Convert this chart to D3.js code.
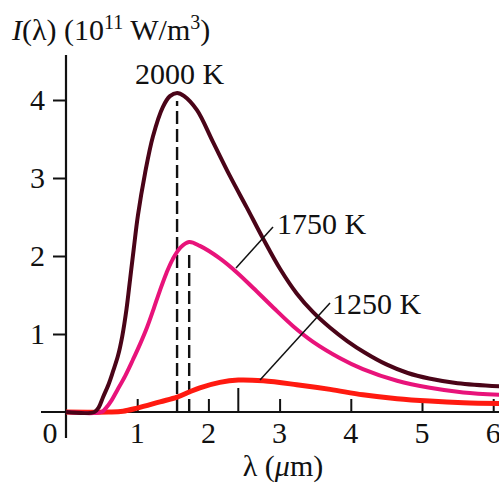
<!DOCTYPE html>
<html><head><meta charset="utf-8">
<script src="https://cdn.jsdelivr.net/npm/d3@7"></script>
<style>
html,body{margin:0;padding:0;background:#fff;}
svg{display:block;font-family:"Liberation Serif","DejaVu Serif",serif;}
</style></head>
<body>
<svg id="c" width="499" height="486"></svg>
<script>
// Data
const xTicks = [1, 2, 3, 4, 5, 6];
const yTicks = [1, 2, 3, 4];
const series2000 = [[0,0],[0.40,0],[0.46,0.06],[0.52,0.19],[0.60,0.36],[0.66,0.52],[0.73,0.72],[0.79,0.97],[0.85,1.32],[0.90,1.70],[0.95,2.08],[1.01,2.52],[1.11,3.06],[1.22,3.53],[1.36,3.91],[1.46,4.05],[1.56,4.09],[1.66,4.05],[1.84,3.87],[2.06,3.47],[2.30,3.03],[2.54,2.62],[2.77,2.22],[3.01,1.83],[3.24,1.52],[3.47,1.28],[3.71,1.08],[3.95,0.91],[4.20,0.76],[4.50,0.61],[4.80,0.50],[5.10,0.43],[5.50,0.37],[6.10,0.33]];
const series1750 = [[0,0],[0.50,0],[0.56,0.05],[0.64,0.15],[0.72,0.28],[0.83,0.46],[0.94,0.67],[1.04,0.87],[1.14,1.09],[1.23,1.32],[1.32,1.56],[1.41,1.78],[1.50,1.96],[1.61,2.11],[1.73,2.18],[1.88,2.13],[2.16,1.97],[2.40,1.79],[2.63,1.59],[2.91,1.34],[3.19,1.10],[3.47,0.90],[3.85,0.69],[4.17,0.55],[4.65,0.40],[5.11,0.31],[5.58,0.25],[6.10,0.22]];
const series1250 = [[0,0],[0.60,0],[0.80,0.01],[1.00,0.05],[1.32,0.13],[1.56,0.19],[1.74,0.26],[1.88,0.31],[2.16,0.38],[2.42,0.41],[2.77,0.40],[3.24,0.35],[3.71,0.29],[4.17,0.22],[4.65,0.17],[5.11,0.14],[5.58,0.12],[6.10,0.11]];
const peaks = [{lam:1.56, v:4.09}, {lam:1.73, v:2.18}];
const peak1250 = {lam:2.42, v:0.41};
const labels = [{t:"2000 K"}, {t:"1750 K"}, {t:"1250 K"}];

const svg = d3.select("#c");
const x = d3.scaleLinear().domain([0, 6]).range([66, 493.2]);
const y = d3.scaleLinear().domain([0, 4]).range([412, 100]);
const FS = 30;

// axes lines
svg.append("line").attr("x1", 41).attr("x2", 499).attr("y1", y(0)).attr("y2", y(0)).attr("stroke", "#111").attr("stroke-width", 2.2);
svg.append("line").attr("x1", x(0)).attr("x2", x(0)).attr("y1", 55).attr("y2", 438).attr("stroke", "#111").attr("stroke-width", 2.2);

// y axis via d3
const ya = svg.append("g").attr("transform", `translate(${x(0)},0)`)
  .call(d3.axisLeft(y).tickValues(yTicks).tickSize(13).tickPadding(8).tickFormat(d3.format("d")));
ya.select(".domain").remove();
ya.selectAll("line").attr("stroke", "#111").attr("stroke-width", 2);
ya.selectAll("text").attr("font-size", FS).attr("fill", "#111").attr("font-family", "Liberation Serif");

// x axis ticks upward
const xa = svg.append("g").attr("transform", `translate(0,${y(0)})`)
  .call(d3.axisTop(x).tickValues(xTicks).tickSize(13).tickFormat(""));
xa.select(".domain").remove();
xa.selectAll("line").attr("stroke", "#111").attr("stroke-width", 2);
// x tick labels below
svg.append("g").selectAll("text").data(xTicks).join("text")
  .attr("x", d => x(d)).attr("y", 443).attr("text-anchor", "middle")
  .attr("font-size", FS).attr("fill", "#111").text(d => d);
svg.append("text").attr("x", 50).attr("y", 443).attr("text-anchor", "middle")
  .attr("font-size", FS).attr("fill", "#111").text("0");

// dashed peak lines
svg.append("g").selectAll("line").data(peaks).join("line")
  .attr("x1", d => x(d.lam)).attr("x2", d => x(d.lam))
  .attr("y1", y(0)).attr("y2", d => y(d.v) + 8)
  .attr("stroke", "#111").attr("stroke-width", 2.4).attr("stroke-dasharray", "13,5");
// 1250 K peak tick
svg.append("line").attr("x1", x(peak1250.lam)).attr("x2", x(peak1250.lam))
  .attr("y1", y(0)).attr("y2", y(peak1250.v) + 8).attr("stroke", "#111").attr("stroke-width", 2);

const line = d3.line().x(d => x(d[0])).y(d => y(d[1])).curve(d3.curveCatmullRom.alpha(0.5));
svg.append("path").datum(series1250).attr("d", line).attr("fill", "none").attr("stroke", "#ff1a10").attr("stroke-width", 5);
svg.append("path").datum(series1750).attr("d", line).attr("fill", "none").attr("stroke", "#e8137a").attr("stroke-width", 4);
svg.append("path").datum(series2000).attr("d", line).attr("fill", "none").attr("stroke", "#4a0418").attr("stroke-width", 4);

// leader lines
svg.append("line").attr("x1", 273).attr("y1", 227).attr("x2", 236).attr("y2", 268).attr("stroke", "#111").attr("stroke-width", 1.5);
svg.append("line").attr("x1", 330).attr("y1", 303).attr("x2", 260).attr("y2", 380).attr("stroke", "#111").attr("stroke-width", 1.5);

// curve labels
svg.append("text").attr("x", 135).attr("y", 84).attr("font-size", FS).attr("fill", "#111").text(labels[0].t);
svg.append("text").attr("x", 277).attr("y", 234).attr("font-size", FS).attr("fill", "#111").text(labels[1].t);
svg.append("text").attr("x", 332).attr("y", 314).attr("font-size", FS).attr("fill", "#111").text(labels[2].t);

// y title
const tt = svg.append("text").attr("x", 12).attr("y", 40).attr("font-size", FS).attr("fill", "#111");
tt.append("tspan").attr("font-style", "italic").text("I");
tt.append("tspan").text("(λ) (10");
tt.append("tspan").attr("font-size", 20).attr("dy", -11).text("11");
tt.append("tspan").attr("dy", 11).text(" W/m");
tt.append("tspan").attr("font-size", 20).attr("dy", -11).text("3");
tt.append("tspan").attr("dy", 11).text(")");

// x title
const xt = svg.append("text").attr("x", 283).attr("y", 476).attr("text-anchor", "middle").attr("font-size", FS).attr("fill", "#111");
xt.append("tspan").text("λ (");
xt.append("tspan").attr("font-style", "italic").text("μ");
xt.append("tspan").text("m)");
</script>
</body></html>
